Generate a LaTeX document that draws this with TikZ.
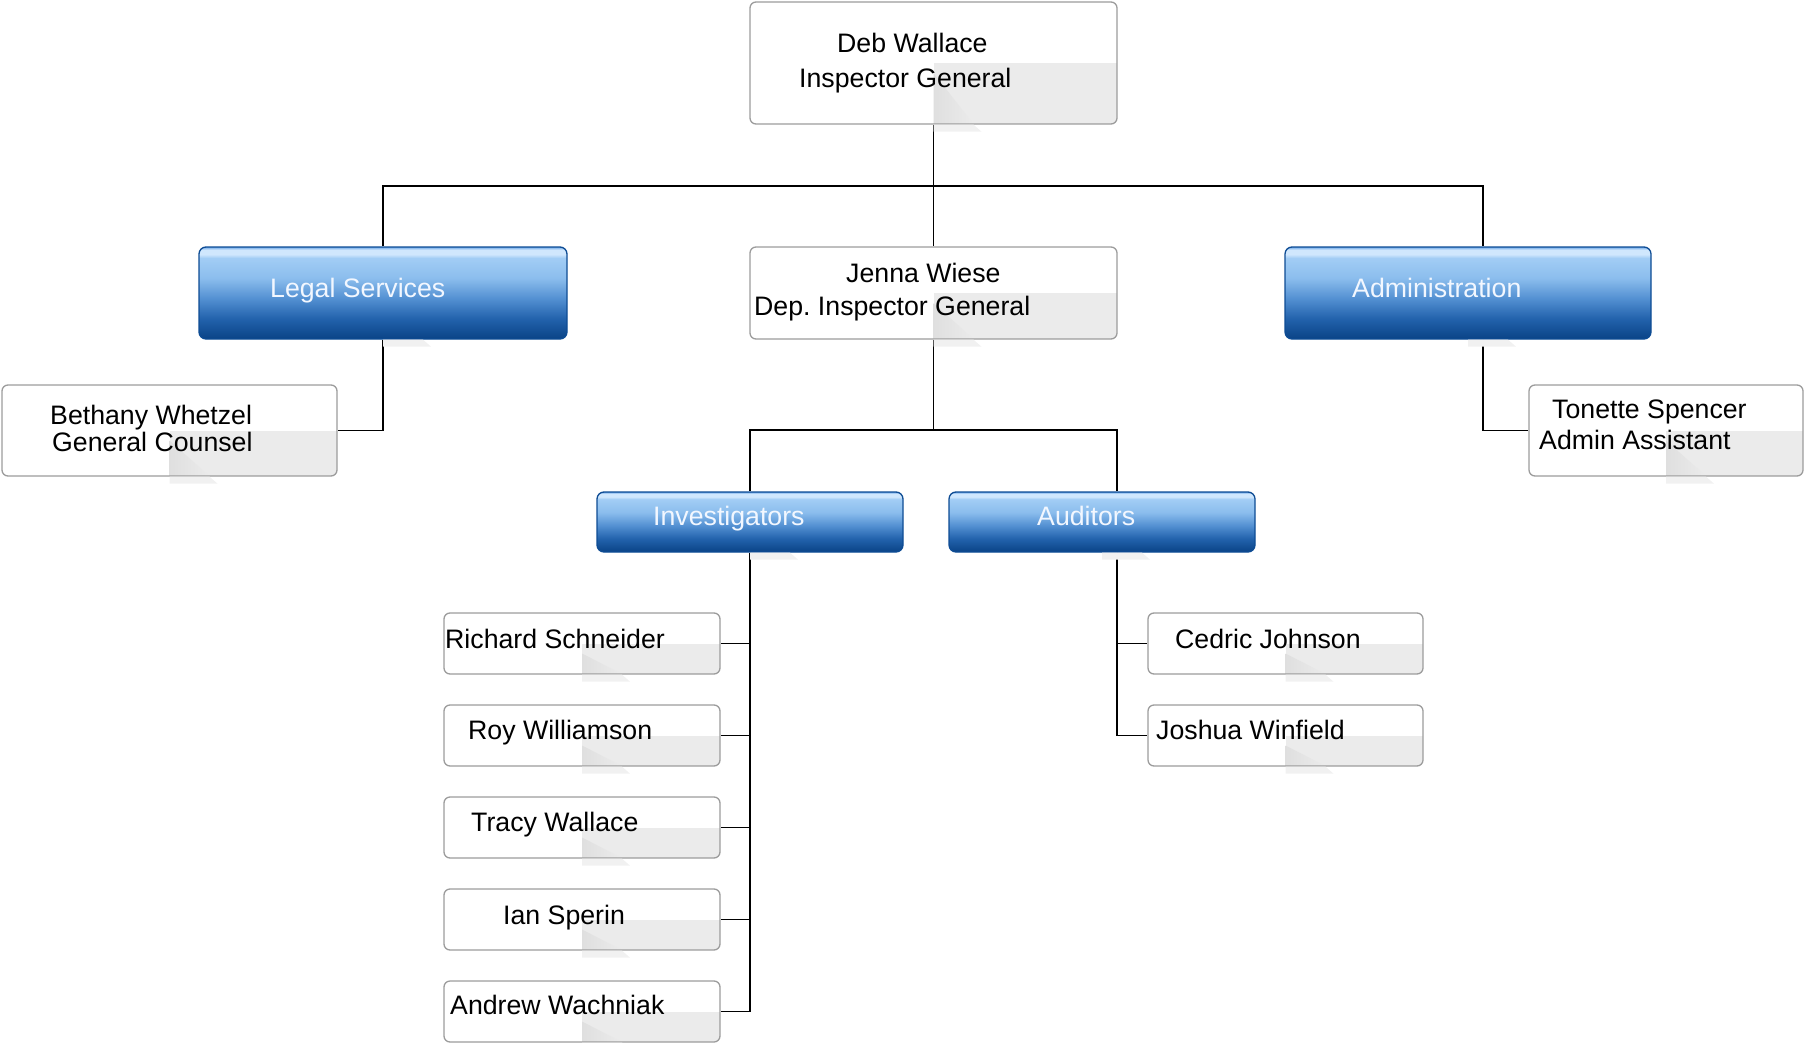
\documentclass[tikz,border=0pt]{standalone}
\usepackage{fontspec}
\setmainfont{Liberation Sans}
\usepackage{xcolor}
\usetikzlibrary{calc,backgrounds}
\definecolor{boxgray}{HTML}{9C9C9C}
\definecolor{foldgray}{HTML}{EBEBEB}
\definecolor{bluedraw}{HTML}{0E4C94}
\definecolor{bdark}{HTML}{0A4386}
\definecolor{bdeep}{HTML}{2262AC}
\definecolor{bmid}{HTML}{5390D2}
\definecolor{blight}{HTML}{8BBDED}
\definecolor{bpale}{HTML}{A2CDF5}
\definecolor{bhigh}{HTML}{D0E7FD}
\definecolor{bedge}{HTML}{6FA8E8}
\definecolor{wtextcol}{HTML}{F2F7FF}
\pgfdeclareverticalshading{unitblue}{100bp}{color(0bp)=(bdark); color(25bp)=(bdark); color(36bp)=(bdeep); color(47bp)=(bmid); color(58bp)=(blight); color(69bp)=(bpale); color(71bp)=(bhigh); color(73.5bp)=(bhigh); color(75bp)=(bedge); color(100bp)=(bedge)}

\begin{document}
\begin{tikzpicture}[x=1pt, y=-1pt,
  personbox/.style={draw=boxgray, line width=1.3pt, fill=white, rounded corners=6pt, inner sep=0pt,
    minimum width=276pt, minimum height=61pt,
    path picture={
      \fill[foldgray, sharp corners] (path picture bounding box.center) rectangle (path picture bounding box.south east);
      \shade[left color=gray!25, right color=foldgray, sharp corners]
        ($(path picture bounding box.center)+(0,10)$) -- ($(path picture bounding box.south)+(40,0)$) -- (path picture bounding box.south) -- cycle;
    }},
  unitbox/.style={draw=bluedraw, line width=1.3pt, shading=unitblue, rounded corners=7pt, inner sep=0pt,
    minimum width=368pt, minimum height=92pt},
  nametext/.style={font=\fontsize{26.7}{32}\selectfont, inner sep=0pt, anchor=base west},
  wtext/.style={nametext, text=wtextcol},
  link/.style={line width=1.7pt, black}]
  \useasboundingbox (0,0) rectangle (1806,1043);

  % Top
  \node[personbox, minimum width=367pt, minimum height=122pt] (deb) at (933.5,63) {};
  \node[nametext] (deb-n) at (837,53) {Deb Wallace};
  \node[nametext] (deb-t) at (799,88) {Inspector General};

  % Second row
  \node[unitbox] (legal) at (383,293) {};
  \node[wtext] (legal-n) at (270,297) {Legal Services};
  \node[personbox, minimum width=367pt, minimum height=92pt] (jenna) at (933.5,293) {};
  \node[nametext] (jenna-n) at (846,282) {Jenna Wiese};
  \node[nametext] (jenna-t) at (754,315) {Dep.\ Inspector General};
  \node[unitbox, minimum width=366pt] (admin) at (1468,293) {};
  \node[wtext] (admin-n) at (1352,297) {Administration};

  % Staff under the units
  \node[personbox, minimum width=335pt, minimum height=91pt] (bethany) at (169.5,430.5) {};
  \node[nametext] (bethany-n) at (50,424) {Bethany Whetzel};
  \node[nametext] (bethany-t) at (52,451) {General Counsel};
  \node[personbox, minimum width=274pt, minimum height=91pt] (tonette) at (1666,430.5) {};
  \node[nametext] (tonette-n) at (1552,418) {Tonette Spencer};
  \node[nametext] (tonette-t) at (1539,449) {Admin Assistant};

  % Investigators and Auditors
  \node[unitbox, minimum width=306pt, minimum height=60pt] (inv) at (750,522) {};
  \node[wtext] (inv-n) at (653,525) {Investigators};
  \node[unitbox, minimum width=306pt, minimum height=60pt] (aud) at (1102,522) {};
  \node[wtext] (aud-n) at (1037,525) {Auditors};

  \node[personbox] (richard) at (582,643.5) {};
  \node[nametext] (richard-n) at (445,648) {Richard Schneider};
  \node[personbox] (roy) at (582,735.5) {};
  \node[nametext] (roy-n) at (468,739) {Roy Williamson};
  \node[personbox] (tracy) at (582,827.5) {};
  \node[nametext] (tracy-n) at (471,831) {Tracy Wallace};
  \node[personbox] (ian) at (582,919.5) {};
  \node[nametext] (ian-n) at (503,924) {Ian Sperin};
  \node[personbox] (andrew) at (582,1011.5) {};
  \node[nametext] (andrew-n) at (450,1014) {Andrew Wachniak};

  \node[personbox, minimum width=275pt] (cedric) at (1285.5,643.5) {};
  \node[nametext] (cedric-n) at (1175,648) {Cedric Johnson};
  \node[personbox, minimum width=275pt] (joshua) at (1285.5,735.5) {};
  \node[nametext] (joshua-n) at (1156,739) {Joshua Winfield};

  % fold shadow below the boxes
  \foreach \n in {deb,jenna,legal,admin,bethany,tonette,inv,aud,richard,roy,tracy,ian,andrew,cedric,joshua}
    \fill[foldgray!70] (\n.south) -- ++(40,0) -- ++(8,7) -- ++(-48,0) -- cycle;

  % connectors
  \coordinate (bus) at (933.5,186);
  \coordinate (split) at (933.5,430);
  \coordinate (admin-in) at ($(admin.north)+(15,0)$);
  \coordinate (admin-out) at ($(admin.south)+(15,0)$);
  \coordinate (aud-in) at ($(aud.north)+(15,0)$);
  \coordinate (aud-out) at ($(aud.south)+(15,0)$);
  \begin{scope}[on background layer]
    \draw[link] (deb.south) -- (jenna.north);
    \draw[link] (legal.north) |- (bus) -| (admin-in);
    \draw[link] (legal.south) |- (bethany.east);
    \draw[link] (admin-out) |- (tonette.west);
    \draw[link] (jenna.south) -- (split);
    \draw[link] (inv.north) |- (split) -| (aud-in);
    \foreach \p in {richard,roy,tracy,ian,andrew}
      \draw[link] (inv.south) |- (\p.east);
    \foreach \p in {cedric,joshua}
      \draw[link] (aud-out) |- (\p.west);
  \end{scope}
\end{tikzpicture}
\end{document}
